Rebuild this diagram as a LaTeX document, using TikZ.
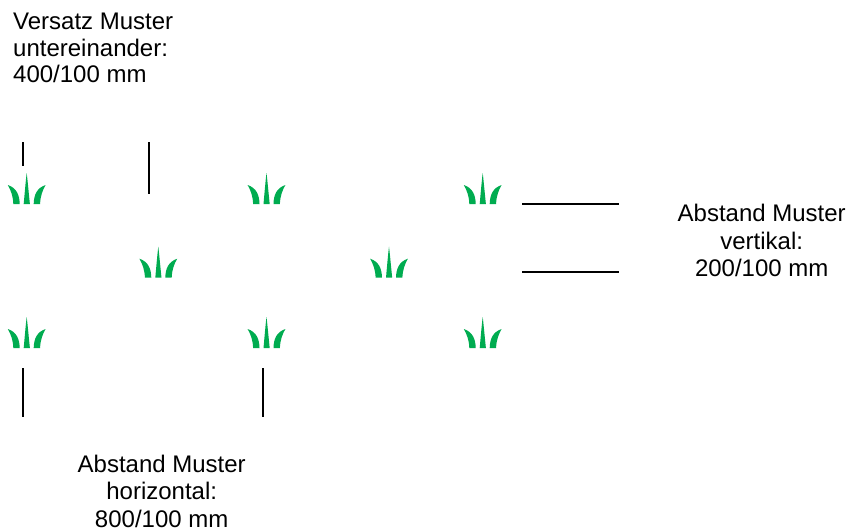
\documentclass[tikz,border=0pt]{standalone}
\usepackage{fontspec}
\setmainfont{Liberation Sans}
\definecolor{grassgreen}{RGB}{0,172,80}
\tikzset{
  label text/.style={align=center,font=\fontsize{24}{26.4}\selectfont,inner sep=0pt,text=black},
  left text/.style={label text,align=left,anchor=north west},
  mark line/.style={draw=black,line width=1.4pt},
  grass/.pic={
    \fill[grassgreen] (-3,31) .. controls (-2,20) and (-1,8) .. (0,0) .. controls (1,8) and (2,20) .. (3.2,31) -- cycle;
    \fill[grassgreen] (-13.4,31) -- (-7,31) .. controls (-7.2,22) and (-10,15) .. (-18.9,12) .. controls (-16,17) and (-13.6,23) .. (-13.4,31) -- cycle;
    \fill[grassgreen] (13.4,31) -- (7,31) .. controls (7.2,22) and (10,15) .. (18.9,12) .. controls (16,17) and (13.6,23) .. (13.4,31) -- cycle;
  }
}
\begin{document}
\begin{tikzpicture}[x=1pt,y=-1pt]
\useasboundingbox[fill=white] (0,0) rectangle (850,531);
\foreach \px/\py in {26.7/173,266.5/173,482.7/173,158.3/246.7,389/246.7,26.7/317,266.5/317,482.7/317}
  \pic at (\px,\py) {grass};
\node[left text] (versatz) at (13,13) {Versatz Muster\\untereinander:\\400/100 mm};
\node[label text] (vertikal) at (761.7,240.5) {Abstand Muster\\[0.9pt]vertikal:\\[0.9pt]200/100 mm};
\node[label text] (horizontal) at (161.7,491.2) {Abstand Muster\\[0.9pt]horizontal:\\[0.9pt]800/100 mm};
\coordinate (a1) at (23,142); \coordinate (a2) at (23,166);
\coordinate (b1) at (149,142); \coordinate (b2) at (149,194);
\coordinate (c1) at (522,204); \coordinate (c2) at (619,204);
\coordinate (d1) at (522,272); \coordinate (d2) at (619,272);
\coordinate (e1) at (23,368); \coordinate (e2) at (23,417);
\coordinate (f1) at (263,368); \coordinate (f2) at (263,417);
\draw[mark line] (a1) -- (a2);
\draw[mark line] (b1) -- (b2);
\draw[mark line] (c1) -- (c2);
\draw[mark line] (d1) -- (d2);
\draw[mark line] (e1) -- (e2);
\draw[mark line] (f1) -- (f2);
\end{tikzpicture}
\end{document}
